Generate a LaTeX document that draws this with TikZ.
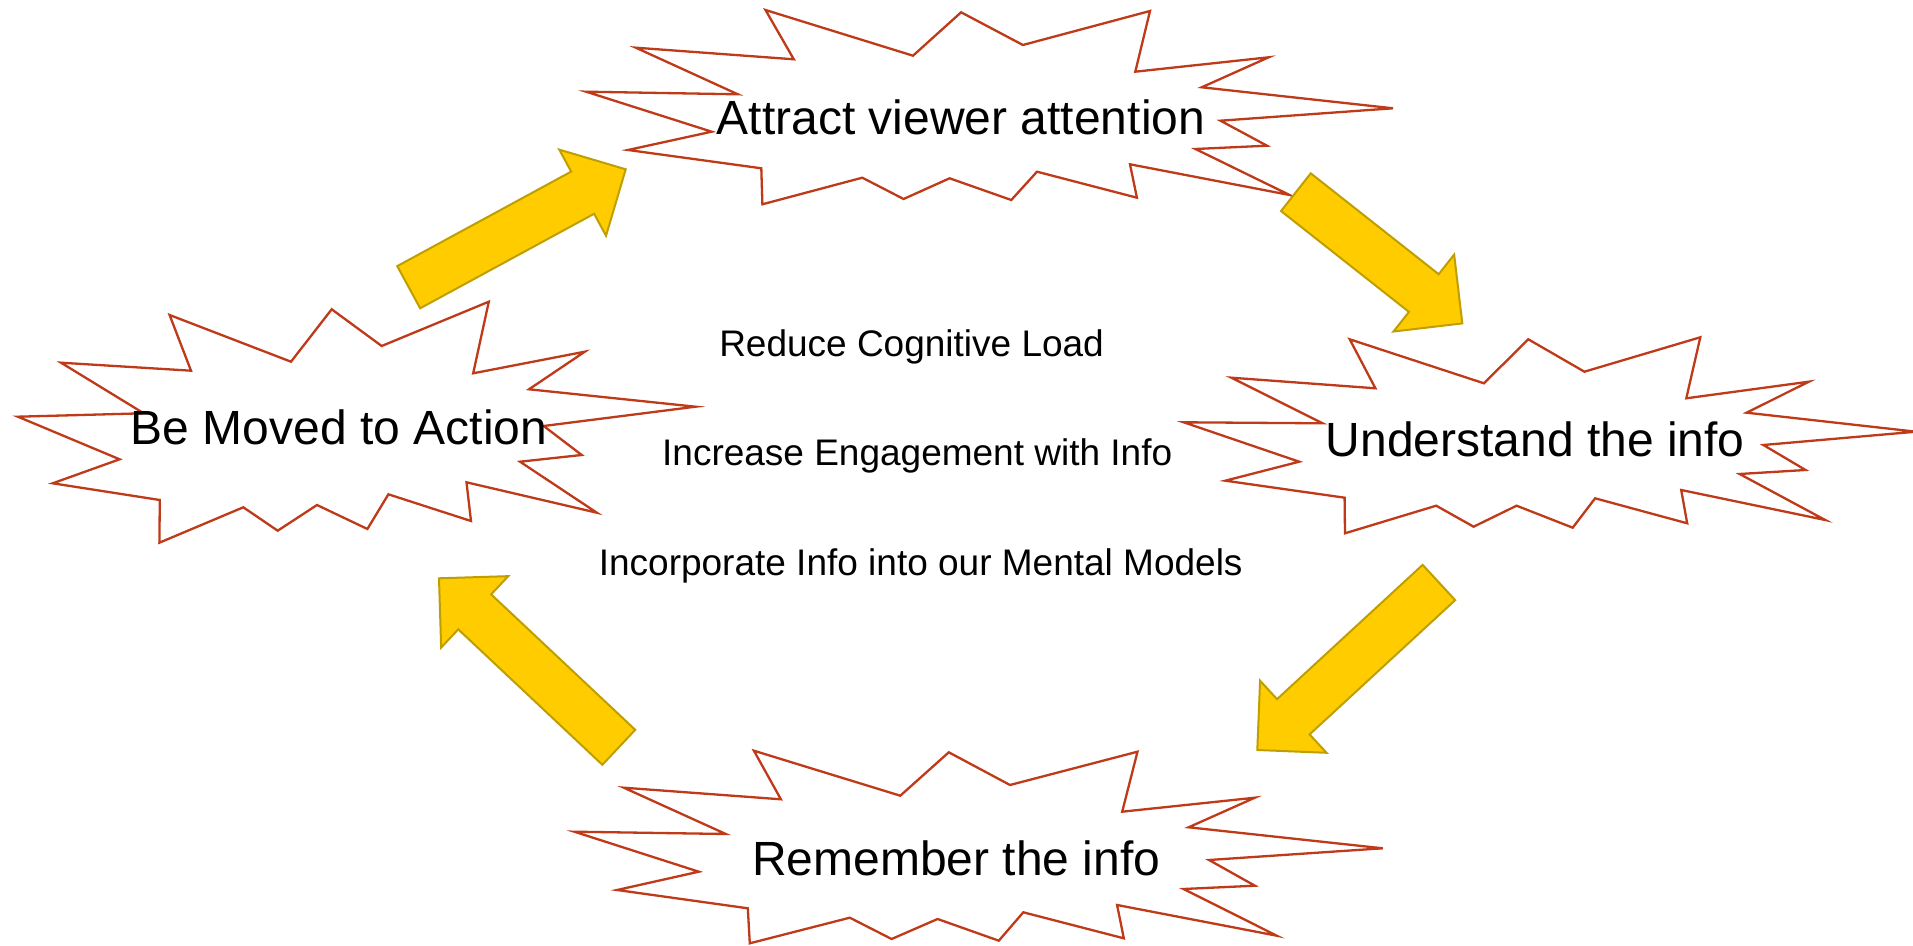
\documentclass[tikz,border=0pt]{standalone}
\usepackage{fontspec}
\setmainfont{Liberation Sans}
\usetikzlibrary{calc}

\definecolor{starline}{RGB}{190,58,24}
\definecolor{arrowfill}{RGB}{255,204,0}
\definecolor{arrowline}{RGB}{190,158,0}

\tikzset{
  burst/.style={draw=starline, fill=white, line width=1.15pt, line join=miter},
  bigtext/.style={font=\fontsize{24}{28}\selectfont, anchor=base, inner sep=0pt},
  smalltext/.style={font=\fontsize{18.5}{22}\selectfont, anchor=base, inner sep=0pt},
  blockarrow/.style={draw=arrowline, fill=arrowfill, line width=1pt, line join=miter},
}

% block arrow from tail point #1 to tip point #2
\newcommand\fatarrow[2]{%
  \coordinate (#1-b) at ($(#2)!24.5pt!(#1)$);
  \draw[blockarrow]
    ($(#1)!12pt!90:(#2)$) -- ($(#1-b)!12pt!90:(#2)$) -- ($(#1-b)!24.5pt!90:(#2)$)
    -- (#2)
    -- ($(#1-b)!24.5pt!-90:(#2)$) -- ($(#1-b)!12pt!-90:(#2)$) -- ($(#1)!12pt!-90:(#2)$)
    -- cycle;
}

\begin{document}
\begin{tikzpicture}[x=0.5pt, y=-0.5pt]
\useasboundingbox (0,0) rectangle (1913,946);
\clip (0,0) rectangle (1913,946);
\fill[white] (0,0) rectangle (1913,946);

% top burst
\draw[burst] plot coordinates {(765.5,10) (793.8,59.3) (635.8,47.7) (737.8,94.3) (586.1,91.7) (711.7,131.7) (628,150) (761.3,168.3) (762.4,204.3) (862.3,177.7) (903.6,199) (949.6,178.3) (1011.3,200) (1037,171.7) (1136.9,197.7) (1130,164.3) (1289.6,195) (1195.4,149) (1267,145.7) (1220.5,120.7) (1393,108.3) (1201.7,87.3) (1268.7,57.3) (1135.3,71.7) (1150,11) (1022.9,45) (961.1,12.3) (913,55.7)} -- cycle;

% left burst
\draw[burst] plot coordinates {(169.6,315) (191,370.7) (61,362.7) (143.7,413.3) (17.9,416.7) (119.6,459.3) (52.7,483.3) (159.8,500) (159.4,542.7) (243.3,507.3) (277.7,530.7) (317,505) (367.4,529) (388.4,494.3) (471,521) (466.5,482.3) (596.8,512.7) (520,461.7) (581.7,455) (543.7,426) (695.5,406.7) (529,389.3) (584.8,351.7) (473.2,373.3) (488.8,301.7) (381.7,346) (331.7,309.3) (291,361.7)} -- cycle;

% right burst
\draw[burst] plot coordinates {(1349.7,339.3) (1375.4,388.3) (1231.4,377.7) (1322.6,423.3) (1183.7,422.3) (1299.2,461.7) (1225.3,480.7) (1344.6,497.7) (1345,533.3) (1436.2,505.7) (1473.6,526.7) (1516.6,505.7) (1572.7,527.7) (1595.1,498.3) (1687.2,523.3) (1681.2,490) (1825.2,520) (1739.6,474) (1805.5,470) (1763.4,445) (1916,431.7) (1746.6,412.7) (1808.8,381.7) (1686.3,398.3) (1700.3,337.3) (1584.4,371.7) (1528.3,339.3) (1483.9,383.3)} -- cycle;

% bottom burst
\draw[burst] plot coordinates {(753.9,750.7) (780.9,799.3) (623.8,787.7) (725.8,834) (574.3,831.7) (698.8,871.7) (617.1,890) (747.8,908.3) (749.8,943.3) (849.8,917.7) (891.6,939) (937.6,919) (998.8,940.7) (1023.3,912.3) (1123.8,938.3) (1117.1,905) (1276.8,935.7) (1183.5,889) (1254.9,885.7) (1209,860) (1382.7,848.3) (1188.6,827.3) (1254.9,797.7) (1122.2,811.7) (1137.5,751.7) (1010,785) (948.8,752.3) (900.3,795.7)} -- cycle;

% stage labels
\node[bigtext] (attract) at (961,135) {Attract viewer attention};
\node[bigtext] (understand) at (1535.3,456.7) {Understand the info};
\node[bigtext] (remember) at (956.2,875) {Remember the info};
\node[bigtext] (moved) at (339,445) {Be Moved to Action};

% centre notes
\node[smalltext] (reduce) at (911.6,356.7) {Reduce Cognitive Load};
\node[smalltext] (engage) at (917.2,465.7) {Increase Engagement with Info};
\node[smalltext] (incorp) at (920.7,575) {Incorporate Info into our Mental Models};

% cycle arrows
\coordinate (a1t) at (408.7,287.2);  \coordinate (a1p) at (625.7,169.3);
\coordinate (a2t) at (1295.9,192.2); \coordinate (a2p) at (1462.3,323.4);
\coordinate (a3t) at (1438.9,582.5); \coordinate (a3p) at (1257.3,750);
\coordinate (a4t) at (618.8,747.3);  \coordinate (a4p) at (439,578.3);
\fatarrow{a1t}{a1p}
\fatarrow{a2t}{a2p}
\fatarrow{a3t}{a3p}
\fatarrow{a4t}{a4p}
\end{tikzpicture}
\end{document}
